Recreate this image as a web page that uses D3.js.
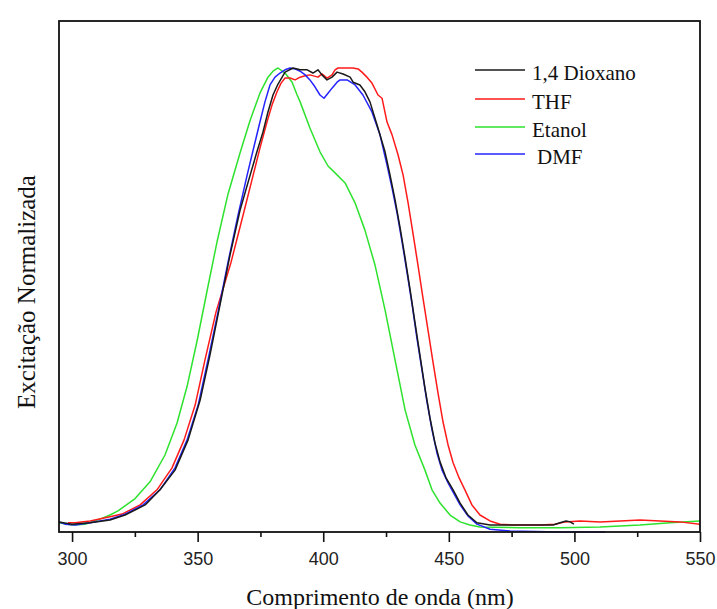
<!DOCTYPE html>
<html>
<head>
<meta charset="utf-8">
<script src="https://cdn.jsdelivr.net/npm/d3@7"></script>
<style>
  html, body { margin: 0; padding: 0; background: #fff; }
  svg { display: block; }
</style>
</head>
<body>
<div id="chart"></div>
<script>
// ---------- data (wavelength in nm, normalized excitation) ----------
const seriesNames = ["1,4 Dioxano", "THF", "Etanol", "DMF"];
const seriesColors = ["#1a1a1a", "#ff1a1a", "#2ee22e", "#2424ff"];

const wlDioxano = [294.8,300.0,307.2,315.1,321.1,329.1,335.0,341.0,346.2,351.0,354.9,358.9,362.9,366.9,370.9,373.6,376.0,378.0,380.0,382.0,384.8,388.0,390.8,393.6,395.9,397.9,399.5,401.5,403.5,405.5,407.9,410.7,411.9,414.6,416.6,418.6,421.4,424.6,426.6,428.6,430.6,432.6,434.6,436.5,438.5,440.5,442.5,444.5,446.5,448.9,451.7,454.5,457.6,461.2,466.4,478.3,491.5,494.3,496.7,498.3,499.8];
const valDioxano = [0.009,0.004,0.007,0.013,0.024,0.046,0.079,0.122,0.188,0.275,0.373,0.483,0.592,0.690,0.766,0.817,0.860,0.904,0.941,0.965,0.991,1.000,0.996,0.996,0.989,0.996,0.985,0.974,0.980,0.991,0.987,0.980,0.969,0.963,0.948,0.926,0.876,0.817,0.766,0.712,0.651,0.585,0.515,0.445,0.373,0.301,0.236,0.181,0.140,0.105,0.079,0.050,0.024,0.007,0.002,0.002,0.002,0.007,0.011,0.009,0.004];

const wlTHF = [298.4,301.2,307.2,315.1,319.9,327.1,333.8,339.8,344.6,349.0,352.9,357.3,363.3,368.1,372.1,374.8,377.6,379.6,381.6,383.2,384.8,386.8,388.8,390.8,392.8,394.7,397.9,399.5,401.5,403.5,404.7,405.9,408.7,411.9,413.9,415.4,417.4,419.4,421.8,423.4,425.4,427.4,429.8,431.8,433.8,435.7,437.7,439.7,441.7,443.7,445.7,447.7,449.7,451.7,454.1,456.4,459.2,462.4,466.4,470.4,476.4,486.3,492.3,496.3,502.2,510.2,518.2,526.1,534.1,542.0,550.0];
const valTHF = [0.007,0.007,0.011,0.020,0.026,0.046,0.079,0.127,0.188,0.264,0.362,0.467,0.576,0.679,0.766,0.825,0.882,0.919,0.948,0.967,0.978,0.978,0.974,0.980,0.983,0.985,0.980,0.987,0.978,0.985,0.996,1.000,1.000,1.000,0.998,0.991,0.980,0.967,0.941,0.934,0.882,0.854,0.810,0.766,0.705,0.640,0.570,0.498,0.428,0.358,0.290,0.227,0.177,0.138,0.105,0.079,0.046,0.024,0.011,0.004,0.002,0.002,0.004,0.009,0.011,0.009,0.011,0.013,0.011,0.009,0.004];

const wlEtanol = [294.8,300.0,305.2,311.1,315.1,318.3,325.1,331.1,337.0,341.8,345.8,349.8,353.7,357.7,362.1,366.9,370.9,374.8,378.0,380.0,382.0,384.8,387.6,389.6,390.8,394.7,398.7,401.9,404.7,408.7,412.7,416.6,420.6,424.6,428.6,432.6,436.5,440.5,443.3,446.5,450.5,454.5,458.4,462.4,478.3,494.3,510.2,526.1,538.1,550.0];
const valEtanol = [0.007,0.002,0.004,0.015,0.024,0.033,0.060,0.097,0.155,0.225,0.305,0.405,0.512,0.620,0.725,0.815,0.886,0.945,0.980,0.993,1.000,0.989,0.969,0.941,0.926,0.869,0.817,0.786,0.771,0.749,0.705,0.646,0.570,0.472,0.362,0.253,0.177,0.122,0.079,0.050,0.024,0.009,0.002,-0.002,-0.004,-0.004,-0.002,0.002,0.007,0.011];

const wlDMF = [294.8,297.2,301.2,307.2,315.1,321.1,328.3,335.0,341.0,345.8,350.2,354.1,358.1,362.1,366.1,369.7,372.1,374.8,376.8,378.8,380.8,382.8,384.8,386.8,388.8,390.8,392.8,394.7,396.7,398.7,400.3,401.9,403.5,405.5,406.7,409.5,412.7,415.8,419.4,422.6,425.4,427.4,429.4,431.4,433.4,435.4,437.3,439.3,441.3,443.3,445.3,447.3,449.7,451.7,454.5,457.6,461.2,466.4,474.4,494.3,512.2];
const valDMF = [0.009,0.004,0.002,0.007,0.015,0.026,0.046,0.079,0.127,0.188,0.264,0.362,0.467,0.576,0.679,0.766,0.821,0.882,0.926,0.963,0.980,0.989,0.996,1.000,0.998,0.993,0.985,0.974,0.959,0.941,0.934,0.945,0.956,0.969,0.974,0.974,0.963,0.941,0.904,0.854,0.788,0.738,0.683,0.620,0.552,0.483,0.410,0.341,0.271,0.210,0.159,0.122,0.094,0.074,0.046,0.022,0.004,-0.007,-0.011,-0.013,-0.013];

const xMajorTicks = [300, 350, 400, 450, 500, 550];
const xMinorTicks = [325, 375, 425, 475, 525];
const xTitle = "Comprimento de onda (nm)";
const yTitle = "Excitação Normalizada";

// ---------- layout ----------
const W = 717, H = 609;
const frame = { left: 59, right: 700, top: 21, bottom: 532 };

const svg = d3.select("#chart").append("svg")
  .attr("width", W).attr("height", H)
  .style("background", "#fff");

const x = d3.scaleLinear().domain([294.8, 550]).range([frame.left, frame.right]);
const y = d3.scaleLinear().domain([-0.0131, 1.1026]).range([frame.bottom, frame.top]);

const series = [
  { name: seriesNames[0], color: seriesColors[0], wl: wlDioxano, v: valDioxano },
  { name: seriesNames[1], color: seriesColors[1], wl: wlTHF, v: valTHF },
  { name: seriesNames[2], color: seriesColors[2], wl: wlEtanol, v: valEtanol },
  { name: seriesNames[3], color: seriesColors[3], wl: wlDMF, v: valDMF }
];

const line = d3.line().x(d => x(d[0])).y(d => y(d[1])).curve(d3.curveLinear);

const clipId = "plotclip";
svg.append("clipPath").attr("id", clipId).append("rect")
  .attr("x", frame.left).attr("y", frame.top)
  .attr("width", frame.right - frame.left).attr("height", frame.bottom - frame.top + 1);

const g = svg.append("g").attr("clip-path", `url(#${clipId})`);
// draw order: green, red, blue, black
[2, 1, 3, 0].forEach(i => {
  const s = series[i];
  g.append("path")
    .datum(s.wl.map((w, k) => [w, s.v[k]]))
    .attr("fill", "none")
    .attr("stroke", s.color)
    .attr("stroke-width", 1.5)
    .attr("stroke-linejoin", "round")
    .attr("d", line);
});

// ---------- axes ----------
const axisMajor = d3.axisBottom(x).tickValues(xMajorTicks).tickSize(10).tickPadding(10)
  .tickFormat(d3.format("d"));
const gx = svg.append("g").attr("transform", `translate(0,${frame.bottom})`).call(axisMajor);
gx.select(".domain").remove();
gx.selectAll(".tick line").attr("stroke", "#111").attr("stroke-width", 1.6);
gx.selectAll(".tick text")
  .attr("font-family", "'Liberation Sans', Arial, sans-serif")
  .attr("font-size", 18).attr("fill", "#222");

const axisMinor = d3.axisBottom(x).tickValues(xMinorTicks).tickSize(5).tickFormat("");
const gm = svg.append("g").attr("transform", `translate(0,${frame.bottom})`).call(axisMinor);
gm.select(".domain").remove();
gm.selectAll(".tick line").attr("stroke", "#111").attr("stroke-width", 1.6);

// frame
svg.append("rect")
  .attr("x", frame.left).attr("y", frame.top)
  .attr("width", frame.right - frame.left).attr("height", frame.bottom - frame.top)
  .attr("fill", "none").attr("stroke", "#111").attr("stroke-width", 1.8);

// titles
svg.append("text")
  .attr("x", 380).attr("y", 605)
  .attr("text-anchor", "middle")
  .attr("font-family", "'Liberation Serif', 'Times New Roman', serif")
  .attr("font-size", 24).attr("fill", "#111")
  .text(xTitle);

svg.append("text")
  .attr("transform", `translate(35,${292}) rotate(-90)`)
  .attr("text-anchor", "middle")
  .attr("font-family", "'Liberation Serif', 'Times New Roman', serif")
  .attr("font-size", 25).attr("fill", "#111")
  .text(yTitle);

// legend
const legendY = [70, 99, 127, 154];
const legendTextX = [532, 532, 532, 537];
series.forEach((s, i) => {
  svg.append("line")
    .attr("x1", 475).attr("x2", 525)
    .attr("y1", legendY[i]).attr("y2", legendY[i])
    .attr("stroke", s.color).attr("stroke-width", 1.5);
  svg.append("text")
    .attr("x", legendTextX[i]).attr("y", legendY[i] + 10)
    .attr("font-family", "'Liberation Serif', 'Times New Roman', serif")
    .attr("font-size", 21).attr("fill", "#111")
    .text(s.name);
});
</script>
</body>
</html>
